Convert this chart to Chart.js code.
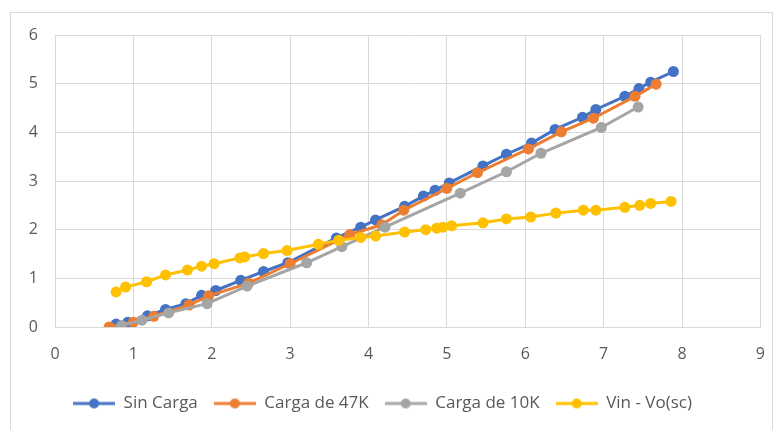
<!DOCTYPE html>
<html>
<head>
<meta charset="utf-8">
<script src="https://cdn.jsdelivr.net/npm/chart.js@4/dist/chart.umd.min.js"></script>
<style>
  html, body { margin: 0; padding: 0; background: #ffffff; }
  #wrap { width: 783px; height: 430px; position: relative; }
</style>
</head>
<body>
<div id="wrap"><canvas id="c" width="783" height="430"></canvas></div>
<script>
// Series names
const seriesNames = ['Sin Carga', 'Carga de 47K', 'Carga de 10K', 'Vin - Vo(sc)'];

// Sin Carga
const sinCargaX = [0.78, 0.93, 1.18, 1.41, 1.67, 1.87, 2.05, 2.37, 2.66, 2.97, 3.59, 3.9, 4.09, 4.46, 4.7, 4.85, 5.03, 5.46, 5.76, 6.08, 6.38, 6.73, 6.9, 7.27, 7.45, 7.6, 7.89];
const sinCargaY = [0.06, 0.1, 0.23, 0.36, 0.48, 0.65, 0.75, 0.96, 1.14, 1.32, 1.83, 2.05, 2.2, 2.48, 2.69, 2.81, 2.96, 3.31, 3.55, 3.78, 4.06, 4.31, 4.47, 4.74, 4.9, 5.03, 5.25];

// Carga de 47K
const carga47X = [0.69, 1.0, 1.26, 1.71, 1.96, 2.47, 3.0, 3.76, 4.17, 4.45, 5.0, 5.39, 6.04, 6.46, 6.87, 7.4, 7.67];
const carga47Y = [0.0, 0.1, 0.22, 0.45, 0.64, 0.9, 1.3, 1.9, 2.1, 2.4, 2.85, 3.17, 3.66, 4.01, 4.29, 4.74, 4.99];

// Carga de 10K
const carga10X = [0.85, 1.11, 1.45, 1.94, 2.45, 3.21, 3.66, 4.21, 5.17, 5.76, 6.2, 6.97, 7.44];
const carga10Y = [0.03, 0.14, 0.29, 0.48, 0.84, 1.32, 1.65, 2.05, 2.75, 3.19, 3.57, 4.1, 4.52];

// Vin - Vo(sc)
const vinX = [0.78, 0.9, 1.17, 1.41, 1.69, 1.87, 2.03, 2.36, 2.42, 2.66, 2.96, 3.36, 3.62, 3.9, 4.09, 4.46, 4.73, 4.87, 4.95, 5.06, 5.46, 5.76, 6.07, 6.39, 6.74, 6.9, 7.27, 7.46, 7.6, 7.86];
const vinY = [0.72, 0.82, 0.93, 1.07, 1.17, 1.25, 1.3, 1.42, 1.44, 1.51, 1.57, 1.7, 1.78, 1.84, 1.87, 1.95, 2.0, 2.03, 2.05, 2.08, 2.14, 2.22, 2.26, 2.34, 2.4, 2.4, 2.46, 2.5, 2.54, 2.58];

// Axis ticks
const xTicks = [0, 1, 2, 3, 4, 5, 6, 7, 8, 9];
const yTicks = [0, 1, 2, 3, 4, 5, 6];

const colors = ['#4472C4', '#ED7D31', '#A5A5A5', '#FFC000'];
const FONT = "'Open Sans', sans-serif";
const TEXT = '#595959';

const toPoints = (xs, ys) => xs.map((x, i) => ({ x: x, y: ys[i] }));

// Legend marker: short line with a dot in the middle
function legendMarker(color) {
  const cv = document.createElement('canvas');
  cv.width = 42; cv.height = 12;
  const g = cv.getContext('2d');
  g.strokeStyle = color; g.lineWidth = 3;
  g.beginPath(); g.moveTo(0, 6); g.lineTo(42, 6); g.stroke();
  g.fillStyle = color;
  g.beginPath(); g.arc(21, 6, 5, 0, Math.PI * 2); g.fill();
  return cv;
}
const markers = colors.map(legendMarker);

const seriesData = [
  toPoints(sinCargaX, sinCargaY),
  toPoints(carga47X, carga47Y),
  toPoints(carga10X, carga10Y),
  toPoints(vinX, vinY)
];

const datasets = seriesNames.map((name, i) => ({
  label: name,
  data: seriesData[i],
  showLine: true,
  borderColor: colors[i],
  backgroundColor: colors[i],
  borderWidth: 3,
  pointRadius: 5.5,
  pointHoverRadius: 5.5,
  pointBorderWidth: 0,
  order: 3 - i
}));

// Outer chart frame
const frame = {
  id: 'frame',
  beforeDraw(chart) {
    const ctx = chart.ctx;
    ctx.save();
    ctx.fillStyle = '#ffffff';
    ctx.fillRect(0, 0, chart.width, chart.height);
    ctx.strokeStyle = '#d9d9d9';
    ctx.lineWidth = 1;
    ctx.strokeRect(10.5, 12.5, 762, 430);
    ctx.restore();
  }
};

const isMajor = v => Math.abs(v - Math.round(v)) < 1e-6;

new Chart(document.getElementById('c'), {
  type: 'scatter',
  data: { datasets },
  plugins: [frame],
  options: {
    responsive: false,
    animation: false,
    layout: { padding: { left: 0, top: 35, right: 18, bottom: 8 } },
    plugins: {
      tooltip: { enabled: false },
      legend: {
        position: 'bottom',
        labels: {
          usePointStyle: true,
          pointStyleWidth: 42,
          boxHeight: 12,
          padding: 16,
          color: TEXT,
          font: { family: FONT, size: 17 },
          sort: (a, b) => a.datasetIndex - b.datasetIndex,
          generateLabels(chart) {
            const items = Chart.defaults.plugins.legend.labels.generateLabels(chart);
            items.forEach(it => { it.pointStyle = markers[it.datasetIndex]; it.lineWidth = 0; });
            return items;
          }
        }
      }
    },
    scales: {
      x: {
        type: 'linear',
        min: xTicks[0],
        max: xTicks[xTicks.length - 1],
        afterFit(scale) { scale.height = 52; },
        ticks: {
          stepSize: 0.2,
          autoSkip: false,
          padding: 18,
          color: TEXT,
          font: { family: FONT, size: 16 },
          callback: v => (isMajor(v) && xTicks.includes(Math.round(v))) ? String(Math.round(v)) : null
        },
        grid: {
          drawTicks: false,
          color: c => isMajor(c.tick.value) ? '#d9d9d9' : '#ececec'
        },
        border: { color: '#d9d9d9' }
      },
      y: {
        type: 'linear',
        min: yTicks[0],
        max: yTicks[yTicks.length - 1],
        afterFit(scale) { scale.width = 55; },
        ticks: {
          stepSize: 0.2,
          autoSkip: false,
          padding: 17,
          color: TEXT,
          font: { family: FONT, size: 16 },
          callback: v => (isMajor(v) && yTicks.includes(Math.round(v))) ? String(Math.round(v)) : null
        },
        grid: {
          drawTicks: false,
          color: c => isMajor(c.tick.value) ? '#d9d9d9' : '#ececec'
        },
        border: { color: '#d9d9d9' }
      }
    }
  }
});
</script>
</body>
</html>
